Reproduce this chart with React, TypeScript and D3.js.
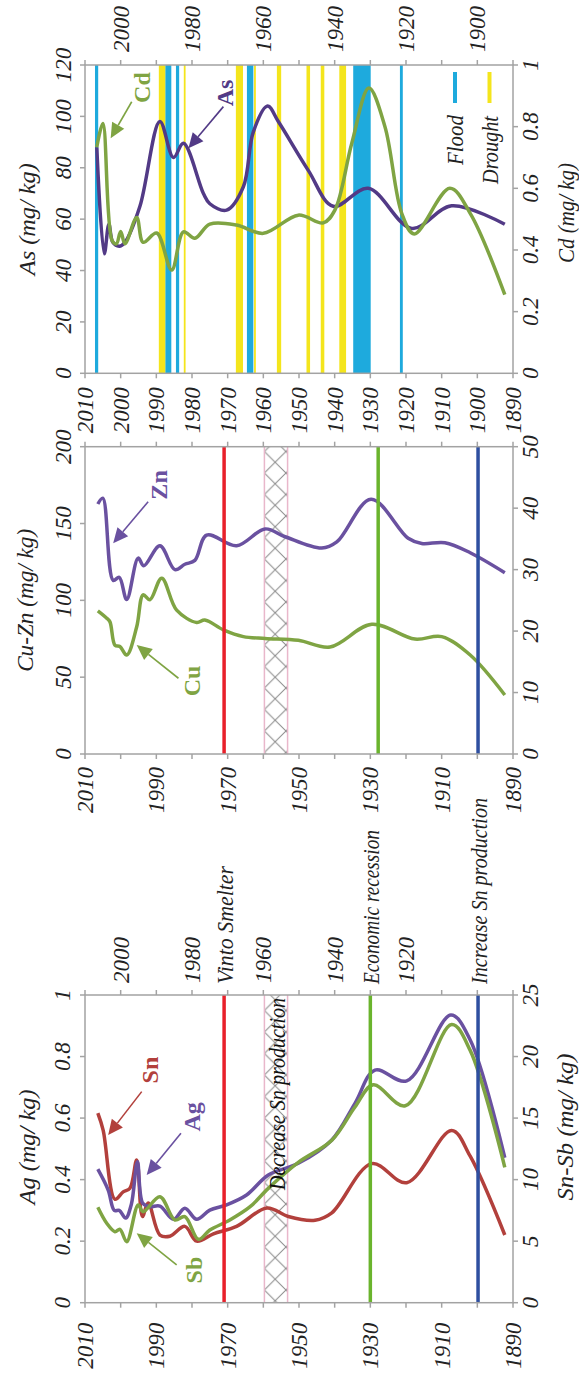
import React from 'react';
import * as d3 from 'd3';

const W = 579;
const H = 1373;
const FONT = "'Liberation Serif', 'DejaVu Serif', serif";

// ---------- data (year, value) ----------
const AS_DATA: [number, number][] = [
  [2006.7, 88], [2004.6, 46.5], [2003.3, 58], [2002.2, 51], [2000.4, 49.5], [1998.8, 51],
  [1994.6, 65], [1989, 98], [1985.2, 84], [1982.4, 89.5], [1976.8, 70], [1975, 66],
  [1970.3, 63.5], [1965.6, 72.6], [1962.8, 94], [1958.8, 104], [1955.8, 98], [1947.4, 79],
  [1940.4, 65], [1930.6, 72], [1918.4, 56.4], [1907.2, 65.2], [1892.3, 58],
];
const CD_DATA: [number, number][] = [
  [2006.7, 0.733], [2005.0, 0.81], [2002.4, 0.43], [2001.2, 0.42], [2000.0, 0.46], [1998.8, 0.42],
  [1995.5, 0.505], [1993.7, 0.425], [1989.9, 0.455], [1985.7, 0.335], [1982.4, 0.459],
  [1979.2, 0.438], [1975, 0.484], [1967.5, 0.481], [1960, 0.454], [1950.2, 0.513],
  [1943.2, 0.488], [1939.9, 0.53], [1935.2, 0.746], [1930.4, 0.925], [1925.9, 0.8],
  [1921.2, 0.519], [1917.7, 0.452], [1907.7, 0.6], [1902, 0.519], [1892.3, 0.255],
];
const ZN_DATA: [number, number][] = [
  [2006.4, 162.7], [2005.0, 166.5], [2002.1, 113], [2000.4, 115], [1998.3, 100.5],
  [1995.1, 127.5], [1993.5, 122.5], [1989, 135.5], [1984.8, 120], [1982, 123.5],
  [1979.2, 126], [1975.9, 142.5], [1967.5, 135.5], [1959.5, 146.5], [1953.9, 141.4],
  [1943.6, 134], [1939.4, 138], [1929.8, 165.8], [1919.4, 140.4], [1915.6, 137],
  [1909.1, 137.5], [1902, 131], [1892.3, 118],
];
const CU_DATA: [number, number][] = [
  [2006.4, 23.3], [2003.9, 22.1], [2003.0, 21.5], [2001.6, 17.7], [2000.2, 17.5],
  [1998.3, 16.1], [1995.5, 20.7], [1993.7, 25.9], [1991.8, 25.1], [1988.5, 28.6],
  [1984.3, 23.4], [1978.7, 21.4], [1976.4, 21.8], [1971.2, 20.2], [1965.6, 19.1],
  [1959.5, 18.8], [1950.2, 18.5], [1941.3, 17.4], [1929.6, 21.1], [1917.5, 18.7],
  [1910, 19.1], [1902, 16.1], [1892.3, 9.6],
];
const SN_DATA: [number, number][] = [
  [2006.4, 15.4], [2004.9, 14.0], [2001.6, 8.4], [1999.3, 9.0], [1997.4, 9.3], [1995.5, 11.6],
  [1993.9, 7.0], [1992.3, 8.1], [1989, 5.5], [1986.2, 5.4], [1982, 6.2], [1978.7, 5.0],
  [1974, 5.6], [1967.5, 6.2], [1959, 7.7], [1953, 7.0], [1945.5, 6.7], [1940.8, 7.3],
  [1929.6, 11.3], [1919.8, 9.75], [1907.2, 14.0], [1902, 11.9], [1892.3, 5.5],
];
const AG_DATA: [number, number][] = [
  [2006.4, 0.434], [2003.5, 0.366], [2001.8, 0.30], [2000.4, 0.30], [1998.6, 0.275],
  [1997.0, 0.32], [1995.3, 0.458], [1993.8, 0.323], [1991.8, 0.312], [1989, 0.314],
  [1985.2, 0.271], [1982, 0.307], [1978.7, 0.271], [1975, 0.301], [1970.3, 0.318],
  [1964.7, 0.35], [1958.6, 0.415], [1950.2, 0.453], [1940.8, 0.529], [1934.3, 0.648],
  [1928.7, 0.756], [1919.8, 0.721], [1907.4, 0.935], [1902, 0.854], [1892.3, 0.471],
];
const SB_DATA: [number, number][] = [
  [2006.4, 7.75], [2003.9, 6.45], [2001.6, 5.77], [2000.2, 5.96], [1998.3, 4.96],
  [1995.1, 7.94], [1993.7, 7.39], [1989, 8.61], [1984.8, 6.72], [1982, 6.99],
  [1978.2, 5.15], [1975, 5.9], [1969.4, 6.72], [1963.7, 7.8], [1958.6, 9.29],
  [1950.2, 11.4], [1940.8, 13.2], [1934.3, 15.9], [1929.2, 17.7], [1920.2, 16.0],
  [1907.2, 22.6], [1902, 20.5], [1892.3, 11.0],
];

// flood / drought periods (year from, year to)
const FLOOD_PERIODS: [number, number][] = [
  [2007.2, 2006.3], [1987.5, 1985.8], [1984.5, 1983.6], [1964.6, 1962.8], [1934.8, 1929.9], [1921.7, 1920.9],
];
const DROUGHT_PERIODS: [number, number][] = [
  [1989.3, 1987.5], [1982.3, 1981.8], [1967.7, 1965.7], [1962.6, 1962.1], [1956.2, 1955.0],
  [1947.9, 1946.9], [1943.9, 1942.9], [1938.7, 1936.8],
];

// historical events
const HATCH_PERIOD: [number, number] = [1959.7, 1953.2];
const MID_EVENT_YEARS = [1971, 1927.8, 1899.8];
const BOT_EVENT_YEARS = [1971, 1930, 1899.8];
const EVENT_COLORS = ['#e8202a', '#6ab42d', '#2e4fa0'];
const EVENT_LABELS = ['Vinto Smelter', 'Economic recession', 'Increase Sn production'];

// ticks
const YEARS_10 = [2010, 2000, 1990, 1980, 1970, 1960, 1950, 1940, 1930, 1920, 1910, 1900, 1890];
const YEARS_20 = [2010, 1990, 1970, 1950, 1930, 1910, 1890];
const TOP_TOP_YEARS = [2000, 1980, 1960, 1940, 1920, 1900];
const BOT_TOP_YEARS = [2000, 1980, 1960, 1940, 1920];
const AS_TICKS = [0, 20, 40, 60, 80, 100, 120];
const CD_TICKS = [0, 0.2, 0.4, 0.6, 0.8, 1];
const CUZN_TICKS = [0, 50, 100, 150, 200];
const CU_TICKS = [0, 10, 20, 30, 40, 50];
const AG_TICKS = [0, 0.2, 0.4, 0.6, 0.8, 1];
const SNSB_TICKS = [0, 5, 10, 15, 20, 25];

// colours
const PURPLE_DARK = '#523a86';
const PURPLE = '#6a51a0';
const GREEN = '#7fa443';
const RED = '#b2403c';
const FLOOD = '#1eaadd';
const DROUGHT = '#f4e51c';
const AXIS = '#a3a3a3';

// ---------- layout ----------
const X0 = 85;
const X1 = 513;
const PANELS = {
  top: { y0: 65, y1: 373.3 },
  mid: { y0: 446.7, y1: 754 },
  bot: { y0: 995, y1: 1302.7 },
};

const xs = d3.scaleLinear().domain([2010, 1890]).range([X0, X1]);

function RText(props: any) {
  const { x, y, anchor = 'middle', size = 23, fill = '#222', weight = 'normal', italic = true, len, children } = props;
  return (
    <text
      transform={`translate(${x},${y}) rotate(-90)`}
      textAnchor={anchor}
      dy="0.35em"
      fontFamily={FONT}
      fontSize={size}
      fontStyle={italic ? 'italic' : 'normal'}
      fontWeight={weight}
      fill={fill}
      textLength={len}
      lengthAdjust={len ? 'spacingAndGlyphs' : undefined}
    >
      {children}
    </text>
  );
}

function Frame({ y0, y1, leftTicks, leftScale, rightTicks, rightScale }: any) {
  const t = 5;
  return (
    <g stroke={AXIS} strokeWidth={1.5} fill="none">
      <rect x={X0} y={y0} width={X1 - X0} height={y1 - y0} />
      {YEARS_10.map((yr) => (
        <g key={yr}>
          <line x1={xs(yr)} x2={xs(yr)} y1={y0} y2={y0 - t} />
          <line x1={xs(yr)} x2={xs(yr)} y1={y1} y2={y1 + t} />
        </g>
      ))}
      {leftTicks.map((v: number) => (
        <line key={'l' + v} x1={X0 - t} x2={X0} y1={leftScale(v)} y2={leftScale(v)} />
      ))}
      {rightTicks.map((v: number) => (
        <line key={'r' + v} x1={X1} x2={X1 + t} y1={rightScale(v)} y2={rightScale(v)} />
      ))}
    </g>
  );
}

function ValueLabels({ ticks, scale, x }: any) {
  return (
    <g>
      {ticks.map((v: number) => (
        <RText key={v} x={x} y={scale(v)}>{String(v)}</RText>
      ))}
    </g>
  );
}

function Arrow({ from, to, color, xScale, yScale }: any) {
  const x1 = xScale(from[0]), y1 = yScale(from[1]);
  const x2 = xScale(to[0]), y2 = yScale(to[1]);
  const dx = x2 - x1, dy = y2 - y1;
  const L = Math.hypot(dx, dy);
  const ux = dx / L, uy = dy / L;
  const hl = 15, hw = 7;
  const bx = x2 - ux * hl, by = y2 - uy * hl;
  const pts = `${x2},${y2} ${bx - uy * hw},${by + ux * hw} ${bx + uy * hw},${by - ux * hw}`;
  return (
    <g>
      <line x1={x1} y1={y1} x2={bx} y2={by} stroke={color} strokeWidth={1.6} />
      <polygon points={pts} fill={color} />
    </g>
  );
}

const TOP_ANNOTS = [
  { text: 'Cd', color: GREEN, label: [1994.1, 111.2], from: [1996.9, 105.7], to: [2002.8, 91.5] },
  { text: 'As', color: PURPLE_DARK, label: [1970.8, 109.1], from: [1971.2, 103.8], to: [1981.0, 87.6] },
];
const MID_ANNOTS = [
  { text: 'Zn', color: PURPLE, label: [1989.5, 175.1], from: [1992.3, 164.2], to: [2002.1, 137.1] },
  { text: 'Cu', color: GREEN, label: [1980.1, 47.5], from: [1983.8, 49.3], to: [1995.5, 70.9] },
];
const BOT_ANNOTS = [
  { text: 'Sn', color: RED, label: [1991.8, 0.756], from: [1994.1, 0.686], to: [2003.5, 0.545] },
  { text: 'Ag', color: PURPLE, label: [1980.1, 0.604], from: [1983.1, 0.551], to: [1992.7, 0.415] },
  { text: 'Sb', color: GREEN, label: [1979.6, 0.106], from: [1984.3, 0.123], to: [1995.5, 0.226] },
];

function Annots({ list, yScale }: any) {
  return (
    <g>
      {list.map((a: any) => (
        <g key={a.text}>
          <Arrow from={a.from} to={a.to} color={a.color} xScale={xs} yScale={yScale} />
          <RText x={xs(a.label[0])} y={yScale(a.label[1])} size={24} fill={a.color} italic={false} weight="bold">
            {a.text}
          </RText>
        </g>
      ))}
    </g>
  );
}

function mkLine(yScale: any) {
  return d3
    .line<[number, number]>()
    .x((d) => xs(d[0]))
    .y((d) => yScale(d[1]))
    .curve(d3.curveCatmullRom.alpha(0.5));
}

function Hatch({ y0, y1 }: any) {
  const xa = xs(HATCH_PERIOD[0]);
  const xb = xs(HATCH_PERIOD[1]);
  return (
    <g>
      <rect x={xa} y={y0} width={xb - xa} height={y1 - y0} fill="url(#xhatch)" />
      <line x1={xa} x2={xa} y1={y0} y2={y1} stroke="#e9b7cb" strokeWidth={1.5} />
      <line x1={xb} x2={xb} y1={y0} y2={y1} stroke="#e9b7cb" strokeWidth={1.5} />
    </g>
  );
}

export default function App() {
  const T = PANELS.top, M = PANELS.mid, B = PANELS.bot;
  const yAs = d3.scaleLinear().domain([0, 120]).range([T.y1, T.y0]);
  const yCd = d3.scaleLinear().domain([0, 1]).range([T.y1, T.y0]);
  const yZn = d3.scaleLinear().domain([0, 200]).range([M.y1, M.y0]);
  const yCu = d3.scaleLinear().domain([0, 50]).range([M.y1, M.y0]);
  const yAg = d3.scaleLinear().domain([0, 1]).range([B.y1, B.y0]);
  const ySS = d3.scaleLinear().domain([0, 25]).range([B.y1, B.y0]);

  const xa = xs(HATCH_PERIOD[0]);

  return (
    <svg width={W} height={H} style={{ position: 'absolute', left: 0, top: 0, background: '#fff' }}>
      <defs>
        <pattern id="xhatch" patternUnits="userSpaceOnUse" width={21.5} height={21.5} x={xa} y={0}>
          <rect width={21.5} height={21.5} fill="#fff" />
          <path d="M0,0 L21.5,21.5 M21.5,0 L0,21.5" stroke="#8a8a8a" strokeWidth={1} />
        </pattern>
      </defs>
      <rect x={0} y={0} width={W} height={H} fill="#fff" />

      {/* ---------- TOP PANEL ---------- */}
      {FLOOD_PERIODS.map((p, i) => (
        <rect key={'f' + i} x={xs(p[0])} y={T.y0} width={xs(p[1]) - xs(p[0])} height={T.y1 - T.y0} fill={FLOOD} />
      ))}
      {DROUGHT_PERIODS.map((p, i) => (
        <rect key={'d' + i} x={xs(p[0])} y={T.y0} width={xs(p[1]) - xs(p[0])} height={T.y1 - T.y0} fill={DROUGHT} />
      ))}
      <path d={mkLine(yAs)(AS_DATA) || ''} fill="none" stroke={PURPLE_DARK} strokeWidth={3.5} strokeLinejoin="round" />
      <path d={mkLine(yCd)(CD_DATA) || ''} fill="none" stroke={GREEN} strokeWidth={3.5} strokeLinejoin="round" />
      <Frame y0={T.y0} y1={T.y1} leftTicks={AS_TICKS} leftScale={yAs} rightTicks={CD_TICKS} rightScale={yCd} />
      <ValueLabels ticks={AS_TICKS} scale={yAs} x={63} />
      <ValueLabels ticks={CD_TICKS} scale={yCd} x={530} />
      {TOP_TOP_YEARS.map((yr) => (
        <RText key={yr} x={xs(yr)} y={T.y0 - 13} anchor="start">{String(yr)}</RText>
      ))}
      {YEARS_10.map((yr) => (
        <RText key={yr} x={xs(yr)} y={T.y1 + 14} anchor="end">{String(yr)}</RText>
      ))}
      <RText x={27} y={(T.y0 + T.y1) / 2} len={112}>As (mg/ kg)</RText>
      <RText x={566} y={213} len={100}>Cd (mg/ kg)</RText>
      {/* legend */}
      <line x1={455} x2={455} y1={72} y2={103} stroke={FLOOD} strokeWidth={4} />
      <line x1={489.5} x2={489.5} y1={72} y2={103} stroke={DROUGHT} strokeWidth={4} />
      <RText x={455} y={115} anchor="end" len={50}>Flood</RText>
      <RText x={490} y={116} anchor="end" len={68}>Drought</RText>
      <Annots list={TOP_ANNOTS} yScale={yAs} />

      {/* ---------- MIDDLE PANEL ---------- */}
      <Hatch y0={M.y0} y1={M.y1} />
      <path d={mkLine(yZn)(ZN_DATA) || ''} fill="none" stroke={PURPLE} strokeWidth={3.5} strokeLinejoin="round" />
      <path d={mkLine(yCu)(CU_DATA) || ''} fill="none" stroke={GREEN} strokeWidth={3.5} strokeLinejoin="round" />
      {MID_EVENT_YEARS.map((yr, i) => (
        <line key={yr} x1={xs(yr)} x2={xs(yr)} y1={M.y0} y2={M.y1} stroke={EVENT_COLORS[i]} strokeWidth={3.5} />
      ))}
      <Frame y0={M.y0} y1={M.y1} leftTicks={CUZN_TICKS} leftScale={yZn} rightTicks={CU_TICKS} rightScale={yCu} />
      <ValueLabels ticks={CUZN_TICKS} scale={yZn} x={63} />
      <ValueLabels ticks={CU_TICKS} scale={yCu} x={530} />
      {YEARS_20.map((yr) => (
        <RText key={yr} x={xs(yr)} y={M.y1 + 13} anchor="end">{String(yr)}</RText>
      ))}
      <RText x={25} y={(M.y0 + M.y1) / 2} len={143}>Cu-Zn (mg/ kg)</RText>
      <Annots list={MID_ANNOTS} yScale={yZn} />

      {/* ---------- BOTTOM PANEL ---------- */}
      <Hatch y0={B.y0} y1={B.y1} />
      <path d={mkLine(ySS)(SN_DATA) || ''} fill="none" stroke={RED} strokeWidth={3.5} strokeLinejoin="round" />
      <path d={mkLine(yAg)(AG_DATA) || ''} fill="none" stroke={PURPLE} strokeWidth={3.5} strokeLinejoin="round" />
      <path d={mkLine(ySS)(SB_DATA) || ''} fill="none" stroke={GREEN} strokeWidth={3.5} strokeLinejoin="round" />
      {BOT_EVENT_YEARS.map((yr, i) => (
        <line key={yr} x1={xs(yr)} x2={xs(yr)} y1={B.y0} y2={B.y1} stroke={EVENT_COLORS[i]} strokeWidth={3.5} />
      ))}
      <RText x={xs((HATCH_PERIOD[0] + HATCH_PERIOD[1]) / 2) + 0.5} y={1190} anchor="start" fill="#111" len={192}>
        Decrease Sn production
      </RText>
      <Frame y0={B.y0} y1={B.y1} leftTicks={AG_TICKS} leftScale={yAg} rightTicks={SNSB_TICKS} rightScale={ySS} />
      <ValueLabels ticks={AG_TICKS} scale={yAg} x={62} />
      <ValueLabels ticks={SNSB_TICKS} scale={ySS} x={530} />
      {BOT_TOP_YEARS.map((yr) => (
        <RText key={yr} x={xs(yr)} y={B.y0 - 12} anchor="start">{String(yr)}</RText>
      ))}
      {BOT_EVENT_YEARS.map((yr, i) => (
        <RText key={'ev' + i} x={xs(yr) + 1} y={B.y0 - 11} anchor="start" len={[118, 154, 186][i]}>
          {EVENT_LABELS[i]}
        </RText>
      ))}
      {YEARS_20.map((yr) => (
        <RText key={yr} x={xs(yr)} y={B.y1 + 20} anchor="end">{String(yr)}</RText>
      ))}
      <RText x={27} y={1147} len={115}>Ag (mg/ kg)</RText>
      <RText x={565} y={1127} len={147}>Sn-Sb (mg/ kg)</RText>
      <Annots list={BOT_ANNOTS} yScale={yAg} />
    </svg>
  );
}
